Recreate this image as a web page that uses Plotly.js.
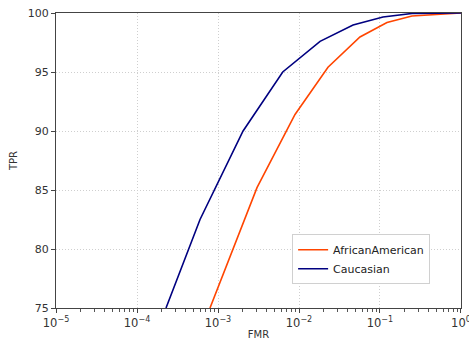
<!DOCTYPE html>
<html>
<head>
<meta charset="utf-8">
<script src="https://cdn.plot.ly/plotly-3.0.1.min.js"></script>
<style>html,body{margin:0;padding:0;background:#fff;}#chart{width:469px;height:343px;}</style>
</head>
<body>
<div id="chart"></div>
<script>
const seriesNames = ["AfricanAmerican", "Caucasian"];
const aaFMR = [7.96e-4, 3.03e-3, 8.93e-3, 0.0228, 0.0566, 0.122, 0.248, 1.0];
const aaTPR = [75.0, 85.2, 91.4, 95.4, 97.97, 99.2, 99.75, 100.0];
const caFMR = [2.28e-4, 6.0e-4, 2.04e-3, 6.3e-3, 0.0182, 0.0465, 0.109, 0.248, 1.0];
const caTPR = [75.0, 82.5, 90.0, 95.0, 97.6, 98.98, 99.66, 99.96, 100.0];
const yTicks = [75, 80, 85, 90, 95, 100];
const xExponents = [-5, -4, -3, -2, -1, 0];

const xTickVals = xExponents.map(e => Math.pow(10, e));
const xTickText = xExponents.map(e => "10<sup>" + (e < 0 ? "\u2212" + (-e) : e) + "</sup>");
const minorVals = [];
xExponents.slice(0, -1).forEach(e => { for (let d = 2; d <= 9; d++) minorVals.push(d * Math.pow(10, e)); });

const traces = [
  {x: aaFMR, y: aaTPR, name: seriesNames[0], mode: "lines", line: {color: "#ff4500", width: 1.6}},
  {x: caFMR, y: caTPR, name: seriesNames[1], mode: "lines", line: {color: "#000080", width: 1.6}}
];
const font = {family: "DejaVu Sans, sans-serif", size: 11, color: "#333"};
const layout = {
  width: 469, height: 343,
  margin: {l: 56, r: 8, t: 13, b: 35},
  paper_bgcolor: "#fff", plot_bgcolor: "#fff",
  font: font,
  showlegend: true,
  legend: {x: 0.583, y: 0.25, xanchor: "left", yanchor: "top", bgcolor: "#fff",
           bordercolor: "#d0d0d0", borderwidth: 1, font: {family: "DejaVu Sans, sans-serif", size: 11, color: "#222"},
           tracegroupgap: 0},
  xaxis: {
    type: "log", range: [-5.0002, 0.0002], tickvals: xTickVals, ticktext: xTickText,
    tickfont: {size: 11.5}, ticklabeloverflow: "allow",
    title: {text: "FMR", font: {size: 10, color: "#333"}, standoff: 2},
    showline: true, mirror: true, linecolor: "#444", linewidth: 1,
    ticks: "outside", ticklen: 4, tickcolor: "#444",
    showgrid: true, gridcolor: "#cfcfcf", griddash: "1px,2px", gridwidth: 1,
    zeroline: false,
    minor: {tickvals: minorVals, ticks: "outside", ticklen: 2.5, tickcolor: "#555", showgrid: false}
  },
  yaxis: {
    range: [75, 100], tickvals: yTicks, ticktext: yTicks.map(String),
    tickfont: {size: 11}, ticklabeloverflow: "allow",
    title: {text: "TPR", font: {size: 10, color: "#333"}, standoff: 8},
    showline: true, mirror: true, linecolor: "#444", linewidth: 1,
    ticks: "outside", ticklen: 4, tickcolor: "#444",
    showgrid: true, gridcolor: "#cfcfcf", griddash: "1px,2px", gridwidth: 1,
    zeroline: false
  }
};
Plotly.newPlot("chart", traces, layout, {displayModeBar: false, staticPlot: true});
</script>
</body>
</html>
